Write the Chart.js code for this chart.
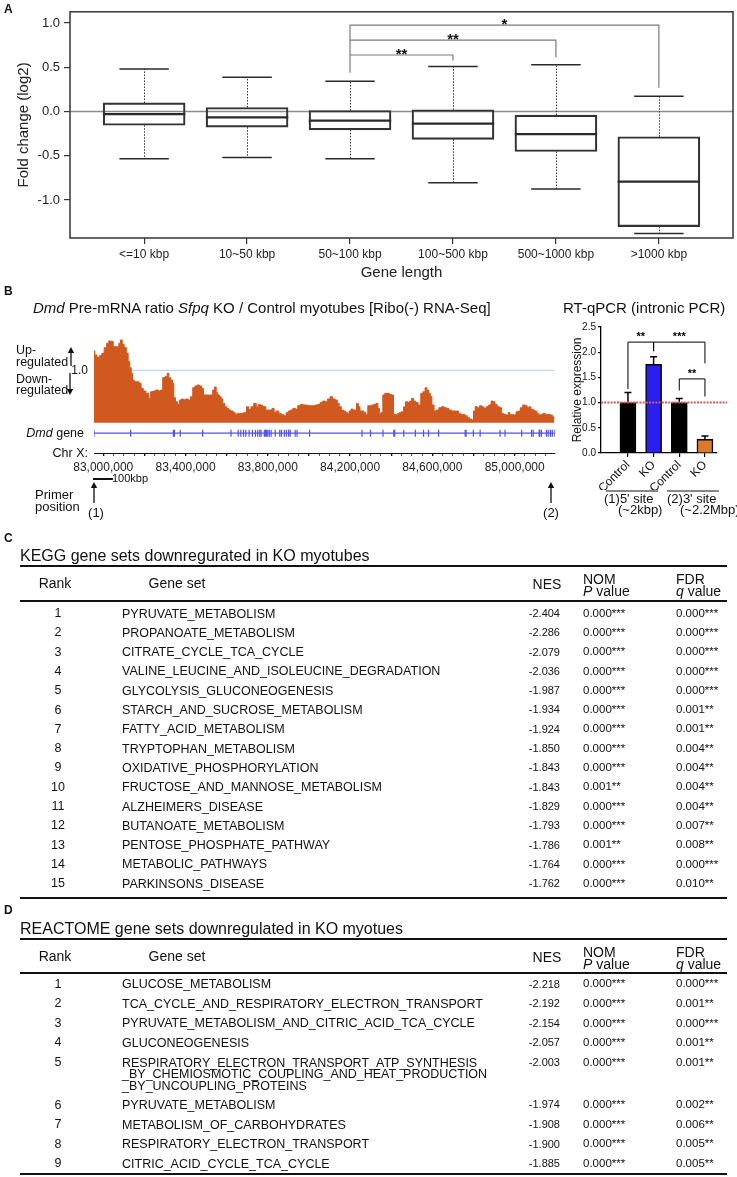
<!DOCTYPE html>
<html>
<head>
<meta charset="utf-8">
<script src="https://cdn.jsdelivr.net/npm/chart.js@4.4.1/dist/chart.umd.min.js"></script>
<style>
html,body{margin:0;padding:0;background:#fff}
body{position:relative;width:737px;height:1177px;overflow:hidden;font-family:"Liberation Sans",Arial,Helvetica,sans-serif;color:#111}
canvas{position:absolute;display:block}
.t{position:absolute;white-space:nowrap}
.rule{position:absolute;left:20px;width:707px;background:#111}
</style>
</head>
<body>
<canvas id="boxA" width="737" height="290" style="left:0;top:0;width:737px;height:290px"></canvas>
<canvas id="trackB" width="560" height="160" style="left:0;top:325px;width:560px;height:160px"></canvas>
<canvas id="qpcrB" width="177" height="175" style="left:560px;top:315px;width:177px;height:175px"></canvas>
<svg id="arrows" width="737" height="1177" style="position:absolute;left:0;top:0;pointer-events:none"></svg>
<script>
// ================= DATA =================
// Panel A: box plot of fold change by gene length
const boxCategories = ['<=10 kbp', '10~50 kbp', '50~100 kbp', '100~500 kbp', '500~1000 kbp', '>1000 kbp'];
const boxWhiskerLow  = [-0.534, -0.520, -0.534, -0.805, -0.876, -1.380];
const boxQ1          = [-0.156, -0.178, -0.208, -0.315, -0.453, -1.302];
const boxMedian      = [-0.030, -0.067, -0.104, -0.137, -0.256, -0.794];
const boxQ3          = [ 0.096,  0.045,  0.011,  0.019, -0.041, -0.286];
const boxWhiskerHigh = [ 0.480,  0.386,  0.341,  0.508,  0.527,  0.171];
const boxYTicks = [-1.0, -0.5, 0.0, 0.5, 1.0];
const boxSigFrom  = [2, 2, 2];
const boxSigTo    = [3, 4, 5];
const boxSigLabel = ['**', '**', '*'];

// Panel B: Dmd pre-mRNA ratio track (position in kbp on Chr X, ratio KO/Control)
const trackPosKb = [82955,82963,82975,82987,82999,83010,83023,83031,83042,83055,83071,83080,83088,83096,83107,83117,83125,83133,83139,83146,83155,83168,83180,83188,83201,83214,83225,83236,83249,83262,83273,83284,83294,83306,83315,83323,83333,83340,83346,83356,83365,83375,83385,83394,83406,83419,83430,83440,83451,83462,83472,83483,83491,83504,83517,83527,83537,83545,83553,83561,83569,83577,83585,83596,83604,83616,83625,83637,83645,83656,83669,83682,83692,83701,83711,83725,83738,83750,83758,83766,83782,83798,83814,83826,83835,83847,83858,83871,83884,83895,83906,83916,83927,83939,83952,83965,83976,83987,84000,84013,84024,84036,84048,84061,84073,84084,84097,84108,84121,84133,84142,84152,84162,84173,84183,84191,84199,84210,84218,84226,84236,84244,84252,84262,84271,84281,84291,84300,84310,84320,84331,84339,84347,84355,84363,84374,84384,84397,84407,84415,84424,84436,84445,84455,84465,84474,84484,84494,84504,84513,84523,84538,84549,84560,84569,84577,84586,84593,84602,84614,84625,84638,84651,84662,84673,84686,84699,84711,84722,84732,84743,84751,84764,84775,84786,84796,84804,84812,84823,84835,84844,84856,84867,84880,84891,84899,84909,84920,84932,84941,84953,84964,84974,84980,84990,85001,85012,85022,85033,85045,85055,85066,85074,85082,85093,85103,85113,85122,85132,85142,85155,85168,85179,85187,85193];
const trackRatio = [1.369,1.293,1.248,1.280,1.325,1.433,1.516,1.561,1.548,1.452,1.452,1.516,1.580,1.497,1.433,1.325,1.166,1.051,0.943,0.815,0.783,0.783,0.752,0.656,0.605,0.561,0.465,0.592,0.605,0.624,0.605,0.624,0.860,0.879,0.943,0.860,0.815,0.752,0.478,0.401,0.350,0.433,0.452,0.439,0.452,0.433,0.497,0.669,0.701,0.720,0.701,0.656,0.529,0.529,0.529,0.529,0.624,0.682,0.573,0.529,0.497,0.452,0.369,0.306,0.274,0.242,0.223,0.197,0.159,0.178,0.178,0.185,0.197,0.306,0.255,0.306,0.369,0.306,0.350,0.338,0.306,0.242,0.242,0.274,0.197,0.223,0.178,0.159,0.134,0.197,0.223,0.242,0.274,0.261,0.325,0.350,0.338,0.338,0.325,0.325,0.325,0.338,0.350,0.389,0.414,0.401,0.452,0.497,0.452,0.433,0.369,0.306,0.242,0.223,0.197,0.178,0.223,0.261,0.242,0.242,0.369,0.306,0.223,0.223,0.197,0.159,0.325,0.325,0.338,0.350,0.369,0.274,0.178,0.197,0.529,0.561,0.561,0.541,0.529,0.159,0.159,0.178,0.197,0.210,0.306,0.401,0.389,0.414,0.465,0.414,0.389,0.338,0.561,0.592,0.669,0.624,0.561,0.497,0.338,0.223,0.242,0.287,0.306,0.287,0.274,0.242,0.223,0.223,0.223,0.178,0.159,0.159,0.134,0.096,0.070,0.051,0.223,0.306,0.287,0.325,0.306,0.274,0.306,0.338,0.414,0.401,0.350,0.306,0.287,0.178,0.159,0.146,0.197,0.146,0.159,0.146,0.210,0.223,0.287,0.338,0.325,0.287,0.306,0.261,0.242,0.223,0.178,0.146,0.159,0.178,0.159,0.159,0.146,0.115,0.051];
const geneStartKb = 82955;
const geneEndKb = 85195;
const exonPosKb = [82955,83133,83341,83346,83374,83483,83621,83656,83669,83682,83693,83709,83725,83740,83751,83761,83767,83783,83788,83793,83800,83807,83816,83836,83858,83866,83880,83890,83901,83909,83933,83942,84003,84258,84299,84360,84412,84417,84461,84517,84557,84581,84630,84759,84764,84799,84832,84929,84953,85034,85082,85090,85119,85122,85130,85154,85163,85174,85183,85195];
const chrLabelKb = [83000, 83400, 83800, 84200, 84600, 85000];

// Panel B right: RT-qPCR
const qpcrLabels = ['Control', 'KO', 'Control', 'KO'];
const qpcrMeans  = [1.00, 1.76, 1.00, 0.27];
const qpcrErrors = [0.20, 0.15, 0.08, 0.065];
const qpcrYTicks = [0.0, 0.5, 1.0, 1.5, 2.0, 2.5];

// Panel C: KEGG table
const keggRank = [1,2,3,4,5,6,7,8,9,10,11,12,13,14,15];
const keggSet = ['PYRUVATE_METABOLISM','PROPANOATE_METABOLISM','CITRATE_CYCLE_TCA_CYCLE','VALINE_LEUCINE_AND_ISOLEUCINE_DEGRADATION','GLYCOLYSIS_GLUCONEOGENESIS','STARCH_AND_SUCROSE_METABOLISM','FATTY_ACID_METABOLISM','TRYPTOPHAN_METABOLISM','OXIDATIVE_PHOSPHORYLATION','FRUCTOSE_AND_MANNOSE_METABOLISM','ALZHEIMERS_DISEASE','BUTANOATE_METABOLISM','PENTOSE_PHOSPHATE_PATHWAY','METABOLIC_PATHWAYS','PARKINSONS_DISEASE'];
const keggNES = ['-2.404','-2.286','-2.079','-2.036','-1.987','-1.934','-1.924','-1.850','-1.843','-1.843','-1.829','-1.793','-1.786','-1.764','-1.762'];
const keggNomP = ['0.000***','0.000***','0.000***','0.000***','0.000***','0.000***','0.000***','0.000***','0.000***','0.001**','0.000***','0.000***','0.001**','0.000***','0.000***'];
const keggFdrQ = ['0.000***','0.000***','0.000***','0.000***','0.000***','0.001**','0.001**','0.004**','0.004**','0.004**','0.004**','0.007**','0.008**','0.000***','0.010**'];

// Panel D: REACTOME table
const reactRank = [1,2,3,4,5,6,7,8,9];
const reactSet = ['GLUCOSE_METABOLISM','TCA_CYCLE_AND_RESPIRATORY_ELECTRON_TRANSPORT','PYRUVATE_METABOLISM_AND_CITRIC_ACID_TCA_CYCLE','GLUCONEOGENESIS','RESPIRATORY_ELECTRON_TRANSPORT_ATP_SYNTHESIS|_BY_CHEMIOSMOTIC_COUPLING_AND_HEAT_PRODUCTION|_BY_UNCOUPLING_PROTEINS','PYRUVATE_METABOLISM','METABOLISM_OF_CARBOHYDRATES','RESPIRATORY_ELECTRON_TRANSPORT','CITRIC_ACID_CYCLE_TCA_CYCLE'];
const reactNES = ['-2.218','-2.192','-2.154','-2.057','-2.003','-1.974','-1.908','-1.900','-1.885'];
const reactNomP = ['0.000***','0.000***','0.000***','0.000***','0.000***','0.000***','0.000***','0.000***','0.000***'];
const reactFdrQ = ['0.000***','0.001**','0.000***','0.001**','0.001**','0.002**','0.006**','0.005**','0.005**'];

// ================= HELPERS =================
function label(html, x, yc, size, opts) {
  opts = opts || {};
  const d = document.createElement('div');
  d.className = 't';
  d.innerHTML = html;
  const lh = opts.lh || size * 1.2;
  d.style.fontSize = size + 'px';
  d.style.lineHeight = lh + 'px';
  d.style.top = (yc - lh / 2) + 'px';
  d.style.left = x + 'px';
  if (opts.align === 'center') d.style.transform = 'translateX(-50%)';
  if (opts.align === 'right') d.style.transform = 'translateX(-100%)';
  if (opts.bold) d.style.fontWeight = 'bold';
  if (opts.color) d.style.color = opts.color;
  document.body.appendChild(d);
  return d;
}
function rule(y, h) {
  const d = document.createElement('div');
  d.className = 'rule';
  d.style.top = (y - h / 2) + 'px';
  d.style.height = h + 'px';
  document.body.appendChild(d);
}
const svg = document.getElementById('arrows');
function arrow(x, tailY, headY) {
  const ns = 'http://www.w3.org/2000/svg';
  const dir = headY < tailY ? -1 : 1;
  const l = document.createElementNS(ns, 'line');
  l.setAttribute('x1', x); l.setAttribute('x2', x);
  l.setAttribute('y1', tailY); l.setAttribute('y2', headY - dir * 3);
  l.setAttribute('stroke', '#111'); l.setAttribute('stroke-width', '1.3');
  svg.appendChild(l);
  const p = document.createElementNS(ns, 'polygon');
  p.setAttribute('points', `${x},${headY} ${x - 3.2},${headY - dir * 6} ${x + 3.2},${headY - dir * 6}`);
  p.setAttribute('fill', '#111');
  svg.appendChild(p);
}
function hline(x1, x2, y, w) {
  const ns = 'http://www.w3.org/2000/svg';
  const l = document.createElementNS(ns, 'line');
  l.setAttribute('x1', x1); l.setAttribute('x2', x2);
  l.setAttribute('y1', y); l.setAttribute('y2', y);
  l.setAttribute('stroke', '#111'); l.setAttribute('stroke-width', w);
  svg.appendChild(l);
}

const FONT = '"Liberation Sans", Arial, Helvetica, sans-serif';
Chart.defaults.font.family = FONT;
Chart.defaults.color = '#222';

// ================= PANEL A =================
label('A', 4, 9, 12, {bold: true});

const boxPlugin = {
  id: 'boxPlugin',
  beforeDatasetsDraw(chart) {
    const {ctx, chartArea: a, scales: {x, y}} = chart;
    ctx.save();
    const y0 = y.getPixelForValue(0);
    ctx.strokeStyle = '#8c8c8c'; ctx.lineWidth = 1.5;
    ctx.beginPath(); ctx.moveTo(a.left, y0); ctx.lineTo(a.right, y0); ctx.stroke();
    ctx.strokeStyle = '#333'; ctx.lineWidth = 1; ctx.setLineDash([1.5, 1.5]);
    boxCategories.forEach((c, i) => {
      const px = Math.round(x.getPixelForValue(i)) + 0.5;
      ctx.beginPath();
      ctx.moveTo(px, y.getPixelForValue(boxQ3[i])); ctx.lineTo(px, y.getPixelForValue(boxWhiskerHigh[i]));
      ctx.moveTo(px, y.getPixelForValue(boxQ1[i])); ctx.lineTo(px, y.getPixelForValue(boxWhiskerLow[i]));
      ctx.stroke();
    });
    ctx.restore();
  },
  afterDatasetsDraw(chart) {
    const {ctx, chartArea: a, scales: {x, y}} = chart;
    ctx.save();
    ctx.strokeStyle = '#2a2a2a';
    boxCategories.forEach((c, i) => {
      const l = x.getPixelForValue(i - 0.24), r = x.getPixelForValue(i + 0.24);
      ctx.lineWidth = 1.5;
      [boxWhiskerHigh[i], boxWhiskerLow[i]].forEach(v => {
        const py = y.getPixelForValue(v);
        ctx.beginPath(); ctx.moveTo(l, py); ctx.lineTo(r, py); ctx.stroke();
      });
      ctx.lineWidth = 2.2;
      const bl = x.getPixelForValue(i - 0.4), br = x.getPixelForValue(i + 0.4);
      const pm = y.getPixelForValue(boxMedian[i]);
      ctx.beginPath(); ctx.moveTo(bl, pm); ctx.lineTo(br, pm); ctx.stroke();
    });
    // significance brackets
    const levels = [0.638, 0.805, 0.976];
    const legEnds = [0.575, 0.612, 0.267];
    const commonLow = 0.438;
    ctx.strokeStyle = '#7a7a7a'; ctx.lineWidth = 1.2;
    const xl = x.getPixelForValue(boxSigFrom[0]);
    ctx.beginPath(); ctx.moveTo(xl, y.getPixelForValue(commonLow)); ctx.lineTo(xl, y.getPixelForValue(levels[2])); ctx.stroke();
    ctx.fillStyle = '#111'; ctx.font = 'bold 15px ' + FONT; ctx.textAlign = 'center'; ctx.textBaseline = 'alphabetic';
    boxSigLabel.forEach((lab, k) => {
      const x1 = x.getPixelForValue(boxSigFrom[k]), x2 = x.getPixelForValue(boxSigTo[k]);
      const py = y.getPixelForValue(levels[k]);
      ctx.beginPath(); ctx.moveTo(x1, py); ctx.lineTo(x2, py); ctx.lineTo(x2, y.getPixelForValue(legEnds[k])); ctx.stroke();
      ctx.fillText(lab, (x1 + x2) / 2, py + 4);
    });
    // frame
    ctx.strokeStyle = '#333'; ctx.lineWidth = 1.5;
    ctx.strokeRect(a.left, a.top, a.right - a.left, a.bottom - a.top);
    ctx.restore();
  }
};

new Chart(document.getElementById('boxA'), {
  type: 'bar',
  data: {
    datasets: [{
      data: boxCategories.map((c, i) => ({x: i, y: [boxQ1[i], boxQ3[i]]})),
      backgroundColor: 'rgba(255,255,255,0)',
      borderColor: '#333',
      borderWidth: 1.5,
      borderSkipped: false,
      barThickness: 82
    }]
  },
  options: {
    responsive: false, animation: false, devicePixelRatio: 1,
    layout: {padding: {top: 10, right: 4, left: 0, bottom: 0}},
    plugins: {legend: {display: false}, tooltip: {enabled: false}},
    scales: {
      x: {
        type: 'linear', min: -0.72, max: 5.72, offset: false,
        afterBuildTicks: s => { s.ticks = boxCategories.map((c, i) => ({value: i})); },
        afterFit: s => { s.height = 52; },
        ticks: {callback: v => boxCategories[v], font: {size: 12}, color: '#222', maxRotation: 0, autoSkip: false, padding: 3},
        grid: {offset: false, drawOnChartArea: false, tickLength: 6, color: '#333', lineWidth: 1.2},
        border: {display: false},
        title: {display: true, text: 'Gene length', font: {size: 15}, color: '#222', padding: {top: 0, bottom: 8}}
      },
      y: {
        min: -1.43, max: 1.126,
        afterBuildTicks: s => { s.ticks = boxYTicks.map(v => ({value: v})); },
        afterFit: s => { s.width = 70; },
        ticks: {callback: v => v.toFixed(1), font: {size: 13}, color: '#222', padding: 4},
        grid: {drawOnChartArea: false, tickLength: 6, color: '#333', lineWidth: 1.2},
        border: {display: false},
        title: {display: true, text: 'Fold change (log2)', font: {size: 15}, color: '#222', padding: {top: 15, bottom: 4}}
      }
    }
  },
  plugins: [boxPlugin]
});

// ================= PANEL B (left) =================
label('B', 4, 291, 12, {bold: true});
label('<i>Dmd</i> Pre-mRNA ratio <i>Sfpq</i> KO / Control myotubes [Ribo(-) RNA-Seq]', 33, 308, 15);
label('Up-', 16, 350.5, 12.5);
label('regulated', 16, 362, 12.5);
label('Down-', 16, 379, 12.5);
label('regulated', 16, 390.5, 12.5);
arrow(71, 366, 347);
arrow(70, 373, 395);
label('1.0', 88, 370, 12, {align: 'right'});
label('<i>Dmd</i> gene', 84, 433, 12.5, {align: 'right'});
label('Chr X:', 88, 453, 12.5, {align: 'right'});
label('100kbp', 112, 479, 11);
label('Primer', 35, 495, 13);
label('position', 35, 507, 13);
arrow(94, 503, 482);
label('(1)', 96, 513, 13, {align: 'center'});
arrow(551, 503, 482);
label('(2)', 551, 513, 13, {align: 'center'});

const GENE_Y = -0.2;
const trackPlugin = {
  id: 'trackPlugin',
  afterDraw(chart) {
    const {ctx, scales: {x}} = chart;
    ctx.save();
    ctx.strokeStyle = '#111'; ctx.lineWidth = 2;
    const py = 154;
    ctx.beginPath(); ctx.moveTo(x.getPixelForValue(geneStartKb) - 1, py); ctx.lineTo(x.getPixelForValue(geneStartKb + 92), py); ctx.stroke();
    ctx.restore();
  }
};

new Chart(document.getElementById('trackB'), {
  type: 'line',
  data: {
    datasets: [
      {
        data: trackPosKb.map((p, i) => ({x: p, y: trackRatio[i]})),
        stepped: 'middle', fill: 'origin',
        backgroundColor: '#d1581f', borderColor: '#d1581f', borderWidth: 1,
        pointRadius: 0, order: 1
      },
      {
        data: [{x: geneStartKb, y: 1}, {x: geneEndKb, y: 1}],
        borderColor: '#b0cbf2', borderWidth: 1, pointRadius: 0, fill: false, order: 3
      },
      {
        data: [{x: geneStartKb, y: GENE_Y}, {x: geneEndKb, y: GENE_Y}],
        borderColor: '#5050f2', borderWidth: 1.3, pointRadius: 0, fill: false, order: 2
      },
      {
        data: exonPosKb.map(p => ({x: p, y: GENE_Y})),
        showLine: false, pointStyle: 'line', rotation: 90, pointRadius: 3.5,
        pointBorderColor: '#5050f2', pointBorderWidth: 1.2, order: 2
      }
    ]
  },
  options: {
    responsive: false, animation: false, devicePixelRatio: 1,
    layout: {padding: {top: 9, right: 3, left: 94, bottom: 0}},
    plugins: {legend: {display: false}, tooltip: {enabled: false}},
    scales: {
      x: {
        type: 'linear', min: 82955, max: 85195,
        afterFit: s => { s.height = 32; },
        ticks: {
          stepSize: 50, includeBounds: false, autoSkip: false, maxRotation: 0, minRotation: 0,
          font: {size: 12}, color: '#222', padding: 4,
          callback: v => chrLabelKb.includes(Math.round(v)) ? (Math.round(v) * 1000).toLocaleString('en-US') : ''
        },
        grid: {
          drawOnChartArea: false, tickLength: 3, color: '#111',
          lineWidth: c => (c.tick && Math.round(c.tick.value) % 200 === 0) ? 1.3 : 0.7
        },
        border: {color: '#111', width: 1}
      },
      y: {display: false, min: -0.578, max: 1.693}
    }
  },
  plugins: [trackPlugin]
});

// ================= PANEL B (right) =================
label('RT-qPCR (intronic PCR)', 563, 308, 15);
hline(606, 658, 491, 1);
hline(667, 719, 491, 1);
label("(1)5' site", 604, 498.5, 13);
label('(~2kbp)', 618, 510, 13);
label("(2)3' site", 667, 498.5, 13);
label('(~2.2Mbp)', 680, 510, 13);

const qpcrPlugin = {
  id: 'qpcrPlugin',
  afterDatasetsDraw(chart) {
    const {ctx, chartArea: a, scales: {x, y}} = chart;
    ctx.save();
    // error bars
    ctx.strokeStyle = '#000'; ctx.lineWidth = 1.5;
    qpcrMeans.forEach((m, i) => {
      const px = x.getPixelForValue(i);
      const top = y.getPixelForValue(m + qpcrErrors[i]);
      ctx.beginPath(); ctx.moveTo(px, y.getPixelForValue(m)); ctx.lineTo(px, top);
      ctx.moveTo(px - 3.5, top); ctx.lineTo(px + 3.5, top); ctx.stroke();
    });
    // reference line at 1.0
    ctx.strokeStyle = '#e2575c'; ctx.lineWidth = 2; ctx.setLineDash([2, 1.2]);
    const p1 = y.getPixelForValue(1);
    ctx.beginPath(); ctx.moveTo(a.left, p1); ctx.lineTo(a.right + 10, p1); ctx.stroke();
    ctx.setLineDash([]);
    // significance brackets
    const br = [
      {from: 0, to: 1, y: 2.2, l: 1.27, r: 2.02, lab: '**'},
      {from: 1, to: 3, y: 2.2, l: 2.02, r: 1.78, lab: '***'},
      {from: 2, to: 3, y: 1.47, l: 1.24, r: 1.12, lab: '**'}
    ];
    ctx.strokeStyle = '#000'; ctx.lineWidth = 1;
    ctx.fillStyle = '#000'; ctx.font = 'bold 11px ' + FONT; ctx.textAlign = 'center'; ctx.textBaseline = 'alphabetic';
    br.forEach(b => {
      const x1 = x.getPixelForValue(b.from), x2 = x.getPixelForValue(b.to), py = y.getPixelForValue(b.y);
      ctx.beginPath();
      ctx.moveTo(x1, y.getPixelForValue(b.l)); ctx.lineTo(x1, py); ctx.lineTo(x2, py); ctx.lineTo(x2, y.getPixelForValue(b.r));
      ctx.stroke();
      ctx.fillText(b.lab, (x1 + x2) / 2, py - 2);
    });
    ctx.restore();
  }
};

new Chart(document.getElementById('qpcrB'), {
  type: 'bar',
  data: {
    datasets: [{
      data: qpcrMeans.map((v, i) => ({x: i, y: v})),
      backgroundColor: ['#000000', '#2b1ff0', '#000000', '#d97a2c'],
      borderColor: '#000', borderWidth: 1.5, barThickness: 16
    }]
  },
  options: {
    responsive: false, animation: false, devicePixelRatio: 1,
    layout: {padding: {top: 12, right: 20, left: 0, bottom: 0}},
    plugins: {legend: {display: false}, tooltip: {enabled: false}},
    scales: {
      x: {
        type: 'linear', min: -1.05, max: 3.47, offset: false,
        afterBuildTicks: s => { s.ticks = qpcrLabels.map((c, i) => ({value: i})); },
        afterFit: s => { s.height = 37; },
        ticks: {callback: v => qpcrLabels[v], font: {size: 12}, color: '#111', minRotation: 45, maxRotation: 45, autoSkip: false, padding: 1},
        grid: {offset: false, drawOnChartArea: false, tickLength: 4, color: '#000', lineWidth: 1.2},
        border: {color: '#000', width: 1.3}
      },
      y: {
        min: 0, max: 2.5,
        afterBuildTicks: s => { s.ticks = qpcrYTicks.map(v => ({value: v})); },
        afterFit: s => { s.width = 41; },
        ticks: {callback: v => v.toFixed(1), font: {size: 10}, color: '#111', padding: 2},
        grid: {drawOnChartArea: false, tickLength: 3, color: '#000', lineWidth: 1.2},
        border: {color: '#000', width: 1.3},
        title: {display: true, text: 'Relative expression', font: {size: 12}, color: '#111', padding: {top: 10, bottom: 2}}
      }
    }
  },
  plugins: [qpcrPlugin]
});

// ================= TABLES =================
const COL_RANK = 58, COL_SET = 122, COL_NES = 560, COL_NOM = 583, COL_FDR = 676;
function tableHeader(yc) {
  label('Rank', 55, yc, 14, {align: 'center'});
  label('Gene set', 177, yc, 14, {align: 'center'});
  label('NES', 547, yc + 1, 14, {align: 'center'});
  label('NOM', 583, yc - 4, 14, {lh: 14});
  label('<i>P</i> value', 583, yc + 8, 14, {lh: 14});
  label('FDR', 676, yc - 4, 14, {lh: 14});
  label('<i>q</i> value', 676, yc + 8, 14, {lh: 14});
}
function tableRow(yc, rank, set, nes, nom, fdr) {
  label(String(rank), COL_RANK, yc, 12.5, {align: 'center'});
  const parts = set.split('|');
  parts.forEach((p, k) => label(p, COL_SET, yc + k * 11.5, 12.5, {lh: 12}));
  label(nes, COL_NES, yc, 11, {align: 'right'});
  label(nom, COL_NOM, yc, 11.5);
  label(fdr, COL_FDR, yc, 11.5);
  return parts.length;
}

// Panel C
label('C', 4, 538, 12, {bold: true});
label('KEGG gene sets downregurated in KO myotubes', 20, 556, 16);
rule(566, 2);
tableHeader(583);
rule(601, 1.6);
keggRank.forEach((r, i) => tableRow(613.5 + i * 19.3, r, keggSet[i], keggNES[i], keggNomP[i], keggFdrQ[i]));
rule(898, 2);

// Panel D
label('D', 4, 910, 12, {bold: true});
label('REACTOME gene sets downregulated in KO myotues', 20, 929, 16);
rule(939, 2);
tableHeader(956);
rule(973, 1.6);
let yRow = 984.3;
reactRank.forEach((r, i) => {
  const n = tableRow(yRow, r, reactSet[i], reactNES[i], reactNomP[i], reactFdrQ[i]);
  yRow += 19.55 + (n - 1) * 11.5;
});
rule(1174.3, 2);
</script>
</body>
</html>
